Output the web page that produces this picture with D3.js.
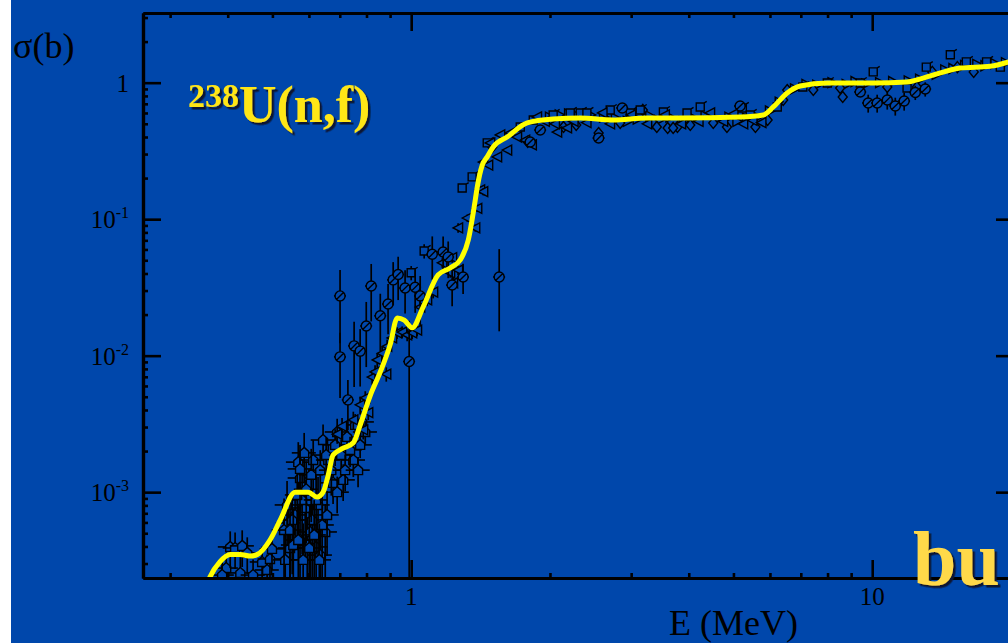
<!DOCTYPE html>
<html>
<head>
<meta charset="utf-8">
<script src="https://cdn.jsdelivr.net/npm/d3@7"></script>
<style>
  html, body { margin: 0; padding: 0; background: #ffffff; }
  svg { display: block; }
  text { font-family: "Liberation Serif", "Times New Roman", serif; }
</style>
</head>
<body>
<svg id="chart" width="1008" height="643"></svg>
<script>
// Evaluated 238U(n,f) cross section: energy (MeV) and sigma (b)
const evalEnergy = [0.357, 0.366, 0.385, 0.405, 0.426, 0.447, 0.464, 0.494, 0.520, 0.560,
  0.598, 0.625, 0.644, 0.661, 0.677, 0.712, 0.749, 0.775, 0.815, 0.857, 0.900, 0.933,
  0.966, 1.005, 1.062, 1.144, 1.215, 1.277, 1.330, 1.377, 1.391, 1.426, 1.462, 1.506,
  1.615, 1.785, 2.032, 2.326, 2.742, 3.251, 3.834, 5.176, 5.80, 6.10, 6.54, 6.98, 7.99,
  10.05, 11.9, 12.9, 14.06, 15.5, 18.03, 20.4];
const evalSigma = [1.92e-4, 2.39e-4, 3.10e-4, 3.5e-4, 3.5e-4, 3.4e-4, 3.5e-4, 4.46e-4, 6.26e-4, 1.00e-3,
  1.00e-3, 9.2e-4, 1.00e-3, 1.34e-3, 1.87e-3, 2.1e-3, 2.3e-3, 3.1e-3, 5.1e-3, 7.6e-3, 1.2e-2, 1.89e-2,
  1.82e-2, 1.60e-2, 2.28e-2, 3.90e-2, 4.39e-2, 5.02e-2, 7.04e-2, 0.138, 0.172, 0.249, 0.286, 0.338,
  0.400, 0.507, 0.541, 0.550, 0.533, 0.551, 0.551, 0.561, 0.580, 0.664, 0.841, 0.946, 0.995,
  0.995, 1.01, 1.08, 1.18, 1.28, 1.32, 1.47];

// Measured data sets: [E (MeV), sigma (b), relative error (%)]
const setSlashed = [
  [0.701, 0.0274, 55], [0.729, 0.00474, 40], [0.701, 0.0098, 50], [0.752, 0.0118, 50],
  [0.775, 0.0108, 45], [0.799, 0.0165, 50], [0.819, 0.0324, 45], [0.857, 0.0196, 45],
  [0.891, 0.0239, 40], [0.914, 0.0359, 35], [0.937, 0.0393, 35], [0.970, 0.0313, 35],
  [0.990, 0.00906, 99], [1.020, 0.0317, 35], [1.046, 0.0274, 40], [1.111, 0.0554, 35],
  [1.173, 0.0575, 30], [1.203, 0.0528, 30], [1.227, 0.0329, 30], [1.296, 0.0377, 25],
  [1.552, 0.0377, 60], [9.80, 0.710, 15], [10.25, 0.710, 15], [10.78, 0.747, 15],
  [11.22, 0.675, 15], [11.73, 0.734, 15], [12.40, 0.848, 12], [13.03, 0.899, 12],
  [9.42, 0.855, 8], [2.55, 0.393, 6], [5.17, 0.675, 5], [2.87, 0.653, 5],
  [1.905, 0.450, 5], [1.812, 0.368, 5]
];
const setTriLeft = [
  [0.691, 0.00266, 15], [0.708, 0.00304, 15], [0.749, 0.00338, 15], [0.775, 0.00436, 15],
  [0.787, 0.00286, 15], [0.795, 0.00490, 12], [0.807, 0.00383, 12], [0.823, 0.00697, 12],
  [0.835, 0.00760, 12], [0.844, 0.0093, 12], [0.865, 0.0104, 12], [0.883, 0.00733, 12],
  [0.887, 0.0117, 12], [0.909, 0.0135, 10], [0.932, 0.0147, 10], [0.956, 0.0149, 10],
  [0.980, 0.0142, 10], [1.005, 0.0147, 10], [1.030, 0.0154, 10], [1.046, 0.0227, 10],
  [1.083, 0.0256, 10], [1.116, 0.0292, 10], [1.168, 0.0479, 8], [1.227, 0.0522, 8],
  [1.215, 0.0405, 8], [1.233, 0.0342, 10], [1.264, 0.0424, 8], [1.264, 0.0863, 8],
  [1.323, 0.102, 6], [1.377, 0.0863, 6], [1.391, 0.120, 6], [1.411, 0.164, 6],
  [1.433, 0.159, 6], [1.433, 0.262, 5], [1.469, 0.249, 5], [1.484, 0.362, 5],
  [1.536, 0.286, 5], [1.560, 0.414, 5], [1.615, 0.321, 5], [1.640, 0.428, 5],
  [1.697, 0.400, 5], [1.767, 0.380, 5], [1.827, 0.350, 5], [1.875, 0.561, 4],
  [2.073, 0.435, 4], [2.178, 0.466, 4], [1.95, 0.52, 4], [2.05, 0.50, 4],
  [2.25, 0.52, 4], [2.40, 0.51, 4], [2.60, 0.60, 4], [2.70, 0.50, 4],
  [3.00, 0.58, 4], [3.25, 0.50, 4], [3.55, 0.58, 4], [3.85, 0.50, 4],
  [4.20, 0.52, 4], [4.45, 0.60, 4], [4.75, 0.52, 4], [5.00, 0.59, 4],
  [5.25, 0.50, 4], [5.50, 0.53, 4], [5.75, 0.51, 4]
];
const setSquare = [
  [1.067, 0.0585, 12], [1.000, 0.0405, 12], [1.290, 0.169, 6], [1.356, 0.204, 6],
  [1.462, 0.362, 5], [1.724, 0.474, 4], [1.840, 0.533, 4], [2.326, 0.600, 4],
  [2.032, 0.580, 4], [2.213, 0.600, 4], [2.405, 0.600, 4], [2.702, 0.631, 4],
  [2.986, 0.600, 4], [3.139, 0.631, 4], [3.524, 0.610, 4], [3.966, 0.600, 4],
  [4.236, 0.664, 4], [5.227, 0.653, 4], [5.437, 0.580, 4], [6.223, 0.664, 4],
  [7.07, 0.930, 4], [7.99, 0.995, 4], [9.42, 0.995, 4], [10.05, 1.20, 4],
  [11.9, 0.915, 4], [13.1, 1.30, 4], [14.77, 1.60, 4], [16.0, 1.42, 4],
  [17.7, 1.42, 4], [18.96, 1.30, 4]
];
const setDiamond = [
  [2.14, 0.474, 4], [2.28, 0.490, 4], [2.55, 0.428, 4], [2.84, 0.507, 4],
  [3.35, 0.507, 4], [3.60, 0.466, 4], [3.78, 0.474, 4], [4.03, 0.490, 4],
  [4.52, 0.507, 4], [4.84, 0.474, 4], [5.58, 0.474, 4], [5.93, 0.533, 4],
  [6.41, 0.747, 4], [6.54, 0.884, 4], [7.45, 0.884, 4], [8.52, 0.915, 4],
  [8.63, 0.786, 4], [10.78, 0.930, 4], [12.5, 0.930, 4], [13.5, 1.20, 4],
  [15.3, 1.30, 4], [16.6, 1.20, 4], [3.18, 0.631, 4], [3.41, 0.474, 4],
  [3.70, 0.466, 4], [1.50, 0.338, 5], [1.79, 0.368, 5]
];
const setTriRight = [
  [2.00, 0.56, 4], [2.10, 0.58, 4], [2.20, 0.59, 4], [2.30, 0.57, 4], [2.45, 0.58, 4],
  [2.62, 0.56, 4], [2.78, 0.55, 4], [2.95, 0.52, 4], [3.10, 0.54, 4], [3.30, 0.57, 4],
  [3.45, 0.53, 4], [3.65, 0.56, 4], [3.90, 0.52, 4], [4.10, 0.55, 4], [4.35, 0.57, 4],
  [4.60, 0.54, 4], [4.90, 0.56, 4], [5.10, 0.52, 4], [5.35, 0.55, 4], [5.65, 0.56, 4],
  [6.0, 0.62, 4], [6.3, 0.72, 4], [6.8, 0.90, 4], [7.2, 0.97, 4], [7.6, 0.96, 4],
  [8.2, 1.00, 4], [8.8, 0.97, 4], [9.2, 1.02, 4], [9.7, 0.98, 4], [10.4, 1.00, 4],
  [11.1, 1.02, 4], [12.0, 1.03, 4], [12.7, 1.06, 4], [13.8, 1.15, 4], [14.4, 1.24, 4],
  [15.0, 1.27, 4], [15.9, 1.34, 4], [16.9, 1.36, 4], [17.6, 1.33, 4], [18.5, 1.38, 4],
  [19.5, 1.40, 4]
];
const setHouse = [
  [0.397, 0.000278, 30], [0.389, 0.000247, 30], [0.405, 0.000397, 30], [0.415, 0.000390, 30],
  [0.426, 0.000256, 30], [0.430, 0.000404, 30], [0.441, 0.000359, 30], [0.454, 0.000247, 30],
  [0.475, 0.000308, 30], [0.487, 0.000269, 30], [0.494, 0.000324, 30], [0.499, 0.000384, 30],
  [0.541, 0.000595, 40], [0.560, 0.000681, 45], [0.569, 0.00166, 40], [0.574, 0.00127, 50],
  [0.586, 0.00194, 40], [0.595, 0.000410, 60], [0.604, 0.000511, 60], [0.613, 0.00172, 40],
  [0.622, 0.000397, 60], [0.644, 0.00241, 30], [0.651, 0.000511, 60], [0.657, 0.000681, 50],
  [0.661, 0.00172, 30], [0.677, 0.00117, 30], [0.691, 0.00100, 30], [0.691, 0.00276, 25],
  [0.712, 0.00123, 30], [0.726, 0.00254, 25], [0.749, 0.00172, 25], [0.756, 0.00311, 20],
  [0.775, 0.00222, 20], [0.783, 0.00327, 20], [0.589, 0.000766, 60], [0.546, 0.000390, 70],
  [0.533, 0.000319, 70], [0.574, 0.000446, 70], [0.635, 0.000346, 70], [0.530, 0.000528, 70],
  [0.552, 0.000626, 60], [0.580, 0.000877, 60], [0.610, 0.000626, 70], [0.628, 0.000806, 60],
  [0.641, 0.000575, 65], [0.538, 0.000806, 50], [0.566, 0.000954, 55],
  [0.574, 0.00148, 50], [0.592, 0.00105, 60], [0.607, 0.00134, 55], [0.622, 0.000877, 60],
  [0.635, 0.00145, 40], [0.654, 0.00187, 35], [0.671, 0.00145, 35], [0.684, 0.00222, 30],
  [0.705, 0.00187, 30], [0.719, 0.00145, 30], [0.737, 0.00204, 25], [0.767, 0.00145, 25],
  [0.795, 0.00276, 20], [0.546, 0.000528, 80], [0.555, 0.00041, 85], [0.583, 0.000319, 85],
  [0.601, 0.00039, 85], [0.616, 0.000486, 80], [0.632, 0.000319, 85], [0.569, 0.000446, 80]
];

// Axis labels
const xTickLabels = ["1", "10"];
const yTickLabels = [["1", ""], ["10", "-1"], ["10", "-2"], ["10", "-3"]];

const svg = d3.select("#chart");
const W = 1008, H = 643;
const plot = { left: 143, right: 1014, top: 13, bottom: 578 };
const BLUE = "#0047ab";

const defs = svg.append("defs");
defs.append("clipPath").attr("id", "plotClip")
  .append("rect").attr("x", plot.left).attr("y", plot.top)
  .attr("width", plot.right - plot.left).attr("height", plot.bottom - plot.top);
const shadow = defs.append("filter").attr("id", "dropShadow")
  .attr("x", "-10%").attr("y", "-10%").attr("width", "130%").attr("height", "140%");
shadow.append("feDropShadow").attr("dx", 2.5).attr("dy", 2.5).attr("stdDeviation", 0)
  .attr("flood-color", "#0a1230").attr("flood-opacity", 1);

svg.append("rect").attr("x", 11).attr("y", 0).attr("width", W - 11).attr("height", H).attr("fill", BLUE);

const x = d3.scaleLog().domain([0.262, 20.3]).range([plot.left, plot.right]);
const y = d3.scaleLog().domain([2.35e-4, 3.24]).range([plot.bottom, plot.top]);

const dataG = svg.append("g").attr("clip-path", "url(#plotClip)");

const shapes = {
  slashed: "M-5,0A5,5 0 1,0 5,0A5,5 0 1,0 -5,0Z M-3.6,3.6L3.6,-3.6",
  triLeft: "M-5,0L4.5,-5L4.5,5Z",
  triRight: "M5,0L-4.5,-5L-4.5,5Z",
  square: "M-4,-4H4V4H-4Z M4,-4L6.5,-5.5",
  diamond: "M0,-5.5L4.5,0L0,5.5L-4.5,0Z",
  house: "M0,-5.5L4.5,-1.5V4.5H-4.5V-1.5Z"
};

function drawSet(rows, shape, dE) {
  const g = dataG.append("g");
  const pts = g.selectAll("g.pt").data(rows).join("g").attr("class", "pt");
  pts.append("line")
    .attr("x1", d => x(d[0])).attr("x2", d => x(d[0]))
    .attr("y1", d => y(d[1] * (1 + d[2] / 100)))
    .attr("y2", d => {
      const lo = d[1] * (1 - d[2] / 100);
      return lo > 1e-6 ? y(lo) : plot.bottom + 5;
    })
    .attr("stroke", "#000").attr("stroke-width", 1.7);
  pts.append("line")
    .attr("x1", d => x(d[0] * (1 - dE))).attr("x2", d => x(d[0] * (1 + dE)))
    .attr("y1", d => y(d[1])).attr("y2", d => y(d[1]))
    .attr("stroke", "#000").attr("stroke-width", 1.6);
  pts.append("path")
    .attr("d", shapes[shape])
    .attr("transform", d => `translate(${x(d[0])},${y(d[1])})`)
    .attr("fill", BLUE).attr("stroke", "#000").attr("stroke-width", 1.4);
}

drawSet(setHouse, "house", 0.06);
drawSet(setTriRight, "triRight", 0.015);
drawSet(setDiamond, "diamond", 0.015);
drawSet(setSquare, "square", 0.015);
drawSet(setTriLeft, "triLeft", 0.015);
drawSet(setSlashed, "slashed", 0.03);

// Evaluated curve drawn on top of the measurements
const evalPts = evalEnergy.map((e, i) => [e, evalSigma[i]]);
dataG.append("path")
  .datum(evalPts)
  .attr("d", d3.line().x(d => x(d[0])).y(d => y(d[1])).curve(d3.curveMonotoneX))
  .attr("fill", "none").attr("stroke", "#ffff00").attr("stroke-width", 5)
  .attr("stroke-linejoin", "round");

// Frame and ticks (ticks point inward on all four sides)
const isMajor = v => Math.abs(Math.log10(v) - Math.round(Math.log10(v))) < 1e-6;
const xTicks = x.ticks();
const yTicks = y.ticks();
const xMajor = xTicks.filter(isMajor), xMinor = xTicks.filter(v => !isMajor(v));
const yMajor = yTicks.filter(isMajor), yMinor = yTicks.filter(v => !isMajor(v));

function styleAxis(g) {
  g.selectAll("path.domain").attr("stroke", "#000").attr("stroke-width", 3.2);
  g.selectAll(".tick line").attr("stroke", "#000").attr("stroke-width", 2.6);
  g.selectAll(".tick text").remove();
}
const MAJ = 18, MIN = 5;
[[d3.axisBottom(x), plot.bottom, xMajor, -MAJ], [d3.axisBottom(x), plot.bottom, xMinor, -MIN],
 [d3.axisTop(x), plot.top, xMajor, -MAJ], [d3.axisTop(x), plot.top, xMinor, -MIN]]
  .forEach(([ax, ty, vals, size]) => {
    svg.append("g").attr("transform", `translate(0,${ty})`)
      .call(ax.tickValues(vals).tickSize(size).tickSizeOuter(0)).call(styleAxis);
  });
[[d3.axisLeft(y), plot.left, yMajor, -MAJ], [d3.axisLeft(y), plot.left, yMinor, -MIN],
 [d3.axisRight(y), plot.right, yMajor, -MAJ], [d3.axisRight(y), plot.right, yMinor, -MIN]]
  .forEach(([ax, tx, vals, size]) => {
    svg.append("g").attr("transform", `translate(${tx},0)`)
      .call(ax.tickValues(vals).tickSize(size).tickSizeOuter(0)).call(styleAxis);
  });

// Tick labels
svg.selectAll("text.xl").data(xMajor).join("text").attr("class", "xl")
  .attr("x", d => x(d)).attr("y", 605).attr("text-anchor", "middle")
  .attr("font-size", 25).attr("fill", "#000")
  .text((d, i) => xTickLabels[i]);

const yl = svg.selectAll("text.yl").data(yMajor.slice().sort((a, b) => b - a)).join("text")
  .attr("class", "yl").attr("x", 129).attr("y", d => y(d) + 9)
  .attr("text-anchor", "end").attr("font-size", 25).attr("fill", "#000");
yl.append("tspan").text((d, i) => yTickLabels[i][0]);
yl.append("tspan").attr("font-size", 16).attr("dy", -10).text((d, i) => yTickLabels[i][1]);

// Axis titles
svg.append("text").attr("x", 13).attr("y", 58).attr("font-size", 36).attr("fill", "#000").text("σ(b)");
svg.append("text").attr("x", 669).attr("y", 635).attr("font-size", 36).attr("fill", "#000").text("E (MeV)");

// Reaction label and overlay word, with drop shadows
const title = svg.append("text").attr("x", 188).attr("y", 122)
  .attr("font-weight", "bold").attr("fill", "#ffe617").attr("filter", "url(#dropShadow)");
title.append("tspan").attr("font-size", 34).attr("dy", -15).text("238");
title.append("tspan").attr("font-size", 52).attr("dy", 15).text("U(n,f)");

svg.append("text").attr("x", 913).attr("y", 585).attr("font-size", 78)
  .attr("font-weight", "bold").attr("fill", "#ffd94a").attr("filter", "url(#dropShadow)")
  .text("bu");
</script>
</body>
</html>
